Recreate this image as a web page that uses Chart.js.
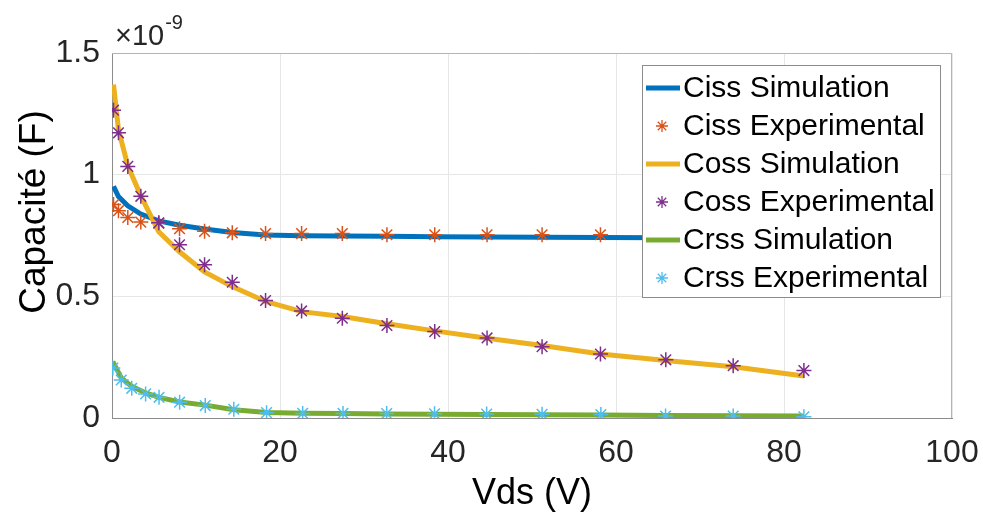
<!DOCTYPE html>
<html>
<head>
<meta charset="utf-8">
<script src="https://cdn.jsdelivr.net/npm/chart.js@4/dist/chart.umd.min.js"></script>
<style>
  body { margin: 0; background: #fff; }
</style>
</head>
<body>
<canvas id="capChart" width="983" height="519"></canvas>
<script>
// Vds (V) sample points
const vds = [0.18, 0.77, 1.88, 3.43, 5.57, 8.04, 11.02, 14.32, 18.28, 22.57, 27.42, 32.73, 38.42, 44.65, 51.2, 58.15, 65.93, 73.95, 82.37];
const vdsCrss = [0.1, 1.1, 2.35, 4.0, 5.6, 8.05, 11.1, 14.5, 18.4, 22.7, 27.5, 32.7, 38.4, 44.6, 51.2, 58.2, 65.9, 73.95, 82.37];

// capacitances in units of 1e-9 F
const cissSim = [0.952, 0.91, 0.872, 0.838, 0.81, 0.792, 0.777, 0.762, 0.752, 0.749, 0.748, 0.747, 0.745, 0.744, 0.743, 0.742, 0.741, 0.741, 0.740];
const cissExp = [0.877, 0.852, 0.824, 0.805, 0.80, 0.778, 0.767, 0.761, 0.758, 0.758, 0.758, 0.753, 0.753, 0.753, 0.753, 0.753, 0.752, 0.752, 0.752];
const cossSim = [1.37, 1.185, 1.037, 0.913, 0.765, 0.683, 0.60, 0.54, 0.479, 0.437, 0.417, 0.387, 0.358, 0.328, 0.298, 0.263, 0.236, 0.211, 0.173];
const cossExp = [1.265, 1.172, 1.034, 0.911, 0.802, 0.712, 0.630, 0.558, 0.483, 0.440, 0.410, 0.380, 0.355, 0.329, 0.293, 0.263, 0.239, 0.215, 0.195];
const crssSim = [0.232, 0.165, 0.13, 0.103, 0.085, 0.066, 0.053, 0.034, 0.023, 0.020, 0.018, 0.016, 0.015, 0.014, 0.013, 0.012, 0.010, 0.009, 0.008];
const crssExp = [0.205, 0.156, 0.122, 0.099, 0.085, 0.065, 0.051, 0.036, 0.022, 0.019, 0.019, 0.018, 0.017, 0.016, 0.015, 0.014, 0.008, 0.008, 0.005];

const xTicks = [0, 20, 40, 60, 80, 100];
const yTicks = [0, 0.5, 1, 1.5];
const seriesNames = ['Ciss Simulation', 'Ciss Experimental', 'Coss Simulation', 'Coss Experimental', 'Crss Simulation', 'Crss Experimental'];
const colors = ['#0072BD', '#D95319', '#EDB120', '#7E2F8E', '#77AC30', '#4DBEEE'];

const FONT = "'Liberation Sans', Arial, Helvetica, sans-serif";

function pts(xs, ys) {
  return ys.map(function(y, i) { return { x: xs[i], y: y }; });
}

function simLine(i, data, order) {
  return {
    label: seriesNames[i], data: data, showLine: true,
    borderColor: colors[i], backgroundColor: colors[i], borderWidth: 5,
    pointRadius: 0, tension: 0, order: order
  };
}
function expPoints(i, data, order) {
  return {
    label: seriesNames[i], data: data, showLine: false,
    borderColor: colors[i], backgroundColor: colors[i],
    pointStyle: 'star', pointRadius: 7.5, pointBorderWidth: 1.5, order: order
  };
}

function drawStar(ctx, x, y, r, color) {
  ctx.save();
  ctx.strokeStyle = color;
  ctx.lineWidth = 1.3;
  ctx.beginPath();
  for (let k = 0; k < 4; k++) {
    const a = k * Math.PI / 4;
    ctx.moveTo(x - r * Math.cos(a), y - r * Math.sin(a));
    ctx.lineTo(x + r * Math.cos(a), y + r * Math.sin(a));
  }
  ctx.stroke();
  ctx.restore();
}

// frame, exponent label, y title and the boxed legend (MATLAB look)
const matlabDecor = {
  id: 'matlabDecor',
  afterDatasetsDraw(chart) {
    const ctx = chart.ctx;
    const a = chart.chartArea;
    ctx.save();
    // top / right box edges
    ctx.strokeStyle = '#b4b4b4';
    ctx.lineWidth = 1;
    ctx.beginPath();
    ctx.moveTo(a.left, a.top + 0.5);
    ctx.lineTo(a.right - 0.5, a.top + 0.5);
    ctx.lineTo(a.right - 0.5, a.bottom);
    ctx.stroke();

    // x10^-9 multiplier
    ctx.fillStyle = '#262626';
    ctx.textAlign = 'left';
    ctx.textBaseline = 'alphabetic';
    ctx.font = '29px ' + FONT;
    ctx.fillText('\u00d710', a.left + 3, 45);
    const w = ctx.measureText('\u00d710').width;
    ctx.font = '20px ' + FONT;
    ctx.fillText('-9', a.left + 4 + w, 29);

    // y axis title
    ctx.save();
    ctx.translate(35, 212);
    ctx.rotate(-Math.PI / 2);
    ctx.textAlign = 'center';
    ctx.textBaseline = 'middle';
    ctx.fillStyle = '#000';
    ctx.font = '37px ' + FONT;
    ctx.fillText('Capacit\u00e9 (F)', 0, 0);
    ctx.restore();

    // legend box
    const bx = 642, by = 65, bw = 298, bh = 232;
    ctx.fillStyle = '#fff';
    ctx.fillRect(bx, by, bw, bh);
    ctx.strokeStyle = '#8c8c8c';
    ctx.strokeRect(bx + 0.5, by + 0.5, bw, bh);
    ctx.font = '30px ' + FONT;
    ctx.textAlign = 'left';
    ctx.textBaseline = 'middle';
    for (let i = 0; i < seriesNames.length; i++) {
      const cy = 88 + i * 38;
      if (i % 2 === 0) {
        ctx.strokeStyle = colors[i];
        ctx.lineWidth = 5;
        ctx.beginPath();
        ctx.moveTo(646, cy);
        ctx.lineTo(680, cy);
        ctx.stroke();
      } else {
        drawStar(ctx, 662, cy, 6, colors[i]);
      }
      ctx.fillStyle = '#000';
      ctx.fillText(seriesNames[i], 683, cy + 1);
    }
    ctx.restore();
  }
};

document.addEventListener('DOMContentLoaded', function() {
  const ctx = document.getElementById('capChart').getContext('2d');
  const tickFont = { family: FONT, size: 32 };

  new Chart(ctx, {
    type: 'scatter',
    data: {
      datasets: [
        simLine(0, pts(vds, cissSim), 6),
        expPoints(1, pts(vds, cissExp), 5),
        simLine(2, pts(vds, cossSim), 4),
        expPoints(3, pts(vds, cossExp), 3),
        simLine(4, pts(vdsCrss, crssSim), 2),
        expPoints(5, pts(vdsCrss, crssExp), 1)
      ]
    },
    options: {
      responsive: false,
      animation: false,
      devicePixelRatio: 1,
      layout: { padding: { top: 53, right: 31, left: 0, bottom: 0 } },
      plugins: { legend: { display: false }, tooltip: { enabled: false } },
      scales: {
        x: {
          type: 'linear', min: 0, max: 100,
          afterBuildTicks: function(s) { s.ticks = xTicks.map(function(v) { return { value: v }; }); },
          afterFit: function(s) { s.height = 101; s.paddingLeft = 0; s.paddingRight = 0; },
          ticks: { font: tickFont, color: '#262626', padding: 16, maxRotation: 0 },
          grid: { color: '#e6e6e6', drawTicks: false },
          border: { color: '#8c8c8c' },
          title: { display: true, text: 'Vds (V)', color: '#000', font: { family: FONT, size: 36 }, padding: { top: 0, bottom: 3 } }
        },
        y: {
          type: 'linear', min: 0, max: 1.5,
          afterBuildTicks: function(s) { s.ticks = yTicks.map(function(v) { return { value: v }; }); },
          afterFit: function(s) { s.width = 112; s.paddingTop = 0; s.paddingBottom = 0; },
          ticks: { font: tickFont, color: '#262626', padding: 12, callback: function(v) { return String(v); } },
          grid: { color: '#e6e6e6', drawTicks: false },
          border: { color: '#8c8c8c' }
        }
      }
    },
    plugins: [matlabDecor]
  });
});
</script>
</body>
</html>
